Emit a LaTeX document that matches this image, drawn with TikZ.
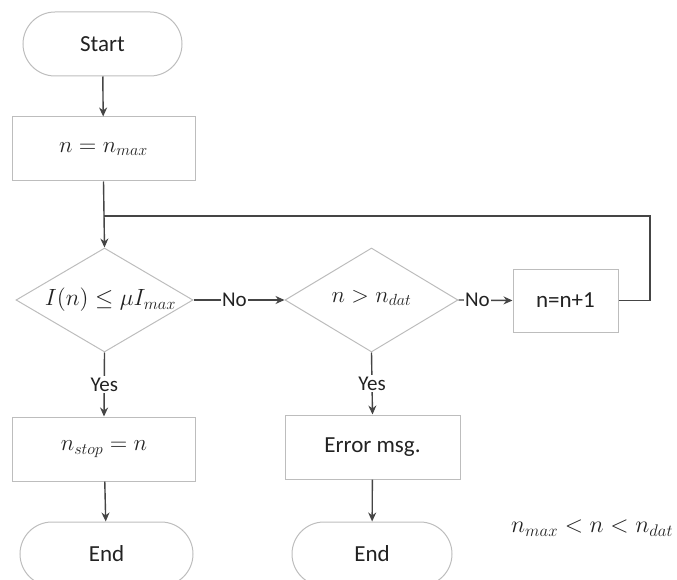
\documentclass[tikz,border=0pt]{standalone}
\usepackage{fontspec}
\newfontfamily\flowfont{Carlito}
% scalable math fonts so that any size can be used
\DeclareFontShape{OML}{cmm}{m}{it}{<-11>cmmi10<11->cmmi12}{}
\DeclareFontShape{OMS}{cmsy}{m}{n}{<->cmsy10}{}
\DeclareFontShape{OT1}{cmr}{m}{n}{<-11>cmr10<11->cmr12}{}
\usetikzlibrary{shapes.geometric,arrows.meta}
\definecolor{boxline}{HTML}{BDBDBD}
\definecolor{flowline}{HTML}{454545}
\definecolor{inktext}{HTML}{222222}
\begin{document}
\begin{tikzpicture}[x=1pt,y=-1pt,
  every node/.style={text=inktext},
  every label/.style={text=inktext},
  terminal/.style={draw=boxline,line width=1pt,rectangle,rounded corners=32pt,
    minimum height=64pt,font=\flowfont\fontsize{23}{26}\selectfont},
  process/.style={draw=boxline,line width=1pt,rectangle,
    font=\flowfont\fontsize{23}{26}\selectfont},
  decision/.style={draw=boxline,line width=1pt,diamond,inner sep=0pt,
    minimum height=104pt},
  flow/.style={draw=flowline,line width=1.4pt,-{Stealth[length=9pt,width=8pt]}},
  plain/.style={draw=flowline,line width=1.4pt},
  tag/.style={fill=white,inner sep=1.5pt,font=\flowfont\fontsize{21}{24}\selectfont}]
\useasboundingbox (0,0) rectangle (677,580);
\clip (0,0) rectangle (677,580);

% main column
\node[terminal,minimum width=159pt] (start) at (102.5,44) {Start};
\node[process,minimum width=183pt,minimum height=64pt] (init) at (103.5,149)
  {\fontsize{23}{26}\selectfont$n = n_{max}$};
\node[decision,minimum width=177pt,
  label={[font=\fontsize{23.5}{27}\selectfont,xshift=6pt]center:$I(n) \leq \mu I_{max}$}]
  (test) at (104.5,300) {};
\node[process,minimum width=183pt,minimum height=64pt] (stop) at (104,449)
  {\fontsize{23}{26}\selectfont$n_{stop} = n$};
\node[terminal,minimum width=173pt] (end1) at (106.5,554) {End};

% second column
\node[decision,minimum width=173pt,
  label={[font=\fontsize{23}{26}\selectfont,yshift=2pt]center:$n > n_{dat}$}]
  (range) at (371.5,300) {};
\node[process,minimum width=175pt,minimum height=64pt] (err) at (372.5,447) {Error msg.};
\node[terminal,minimum width=160pt] (end2) at (372,554) {End};

% increment
\node[process,minimum width=105pt,minimum height=63pt] (inc) at (565.5,300.5) {n=n+1};

% range note
\node[font=\fontsize{24}{27}\selectfont,anchor=west,inner sep=0pt] (note) at (511,528)
  {$n_{max} < n < n_{dat}$};

% connectors
\coordinate (loopR) at (650,216);
\draw[flow] (start) -- (init);
\draw[flow] (init.south) -- (test.north);
\draw[flow] (test.east) -- node[tag,pos=0.45] (no1) {No} (range.west);
\draw[flow] (range.east) -- node[tag,pos=0.35] (no2) {No} (inc.west);
\draw[plain] (inc.east) -| (loopR) -- (init.south |- loopR);
\draw[flow] (test.south) -- node[tag,pos=0.5] (yes1) {Yes} (stop.north);
\draw[flow] (range.south) -- node[tag,pos=0.5] (yes2) {Yes} (err.north);
\draw[flow] (stop) -- (end1);
\draw[flow] (err) -- (end2);
\end{tikzpicture}
\end{document}
